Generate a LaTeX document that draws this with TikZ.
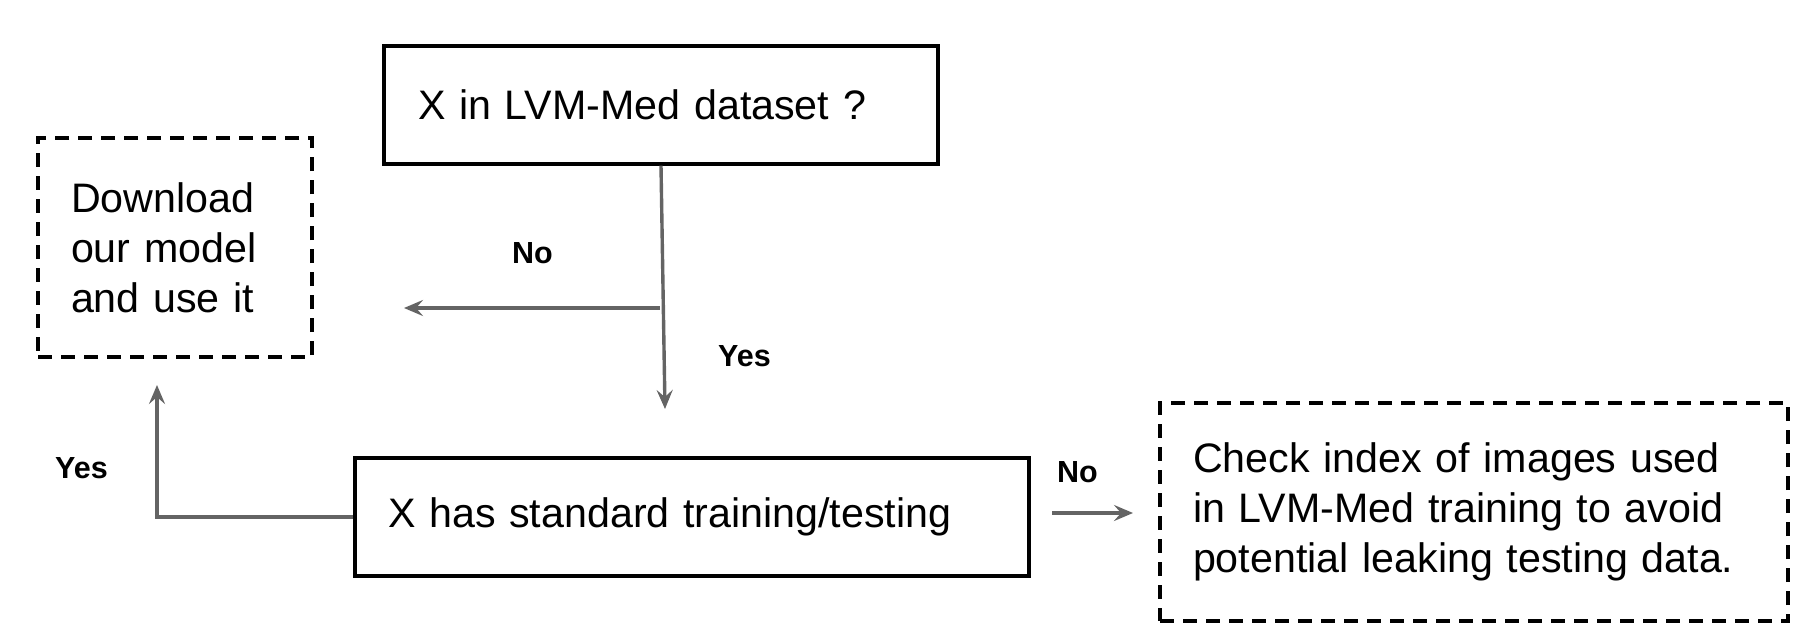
\documentclass[tikz,border=0pt]{standalone}
\usepackage{fontspec}
\setmainfont{Liberation Sans}
\usetikzlibrary{arrows.meta}
\definecolor{conncol}{RGB}{100,100,100}
\tikzset{
  solidbox/.style={draw=black, line width=3.3pt, inner ysep=0pt, align=left,
    font=\fontsize{41.2}{50}\selectfont},
  dashbox/.style={draw=black, line width=3.3pt, dash pattern=on 14pt off 9pt, inner ysep=0pt, align=left,
    font=\fontsize{41.2}{50}\selectfont},
  conn/.style={draw=conncol, line width=3.4pt, -{Stealth[length=19pt,width=16pt,inset=7pt]}},
  lbl/.style={font=\fontsize{30.5}{36}\selectfont\bfseries, inner sep=0pt, anchor=base west}
}
\begin{document}
\begin{tikzpicture}[x=1pt,y=-1pt]
\useasboundingbox (0,0) rectangle (1814,634);
% boxes
\node[solidbox, minimum width=554pt, minimum height=118pt, text width=486pt, inner xsep=34pt] (top) at (661,105) {X in LVM-Med dataset ?};
\node[dashbox, minimum width=274pt, minimum height=219pt, text width=208pt, inner xsep=33pt] (dl) at (175,247.5) {Download\\our model\\and use it};
\node[solidbox, minimum width=674pt, minimum height=118pt, text width=608pt, inner xsep=33pt] (bot) at (692,517) {X has standard training/testing};
\node[dashbox, minimum width=628pt, minimum height=218pt, text width=562pt, inner xsep=33pt] (chk) at (1474,512) {Check index of images used\\in LVM-Med training to avoid\\potential leaking testing data.};
% coordinates
\coordinate (downend) at (665,409);
\coordinate (nostart) at (660,308);
\coordinate (noend) at (404,308);
\coordinate (yesup) at (157,385);
\coordinate (rstart) at (1052,513);
\coordinate (rend) at (1133,513);
% connectors
\draw[conn] (top.south) -- (downend);
\draw[conn] (nostart) -- (noend);
\draw[conn] (bot.west) -| (yesup);
\draw[conn] (rstart) -- (rend);
% labels
\node[lbl] (lno1) at (512,263) {No};
\node[lbl] (lyes1) at (718,366) {Yes};
\node[lbl] (lyes2) at (55,478) {Yes};
\node[lbl] (lno2) at (1057,482) {No};
\end{tikzpicture}
\end{document}
